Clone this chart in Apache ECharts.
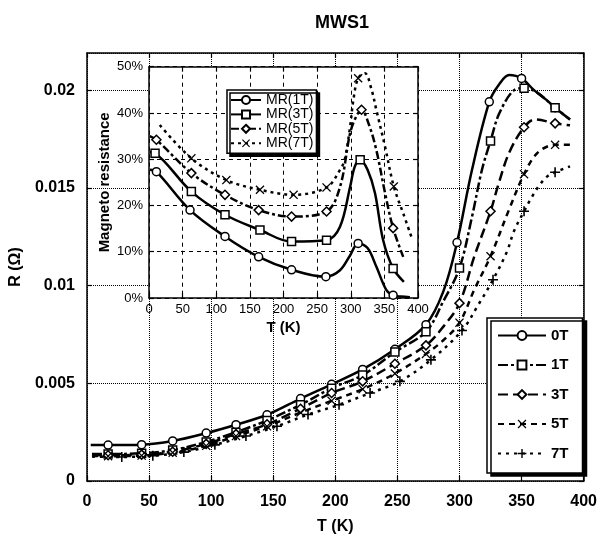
<!DOCTYPE html>
<html>
<head>
<meta charset="utf-8">
<script src="https://cdn.jsdelivr.net/npm/echarts@6/dist/echarts.min.js"></script>
<style>
  html, body { margin: 0; padding: 0; background: #fff; }
  #chart { width: 600px; height: 540px; }
</style>
</head>
<body>
<div id="chart"></div>
<script>
// R(T) curves, main plot
const t0T = [3, 17, 44, 69, 96, 120, 145, 172, 197, 222, 248, 273, 287, 298, 310, 324, 332, 340, 350, 360, 370, 377, 389]
const r0T = [0.00184, 0.00184, 0.00186, 0.00205, 0.00245, 0.00288, 0.00339, 0.00422, 0.00495, 0.00571, 0.00674, 0.00800, 0.0097, 0.0122, 0.0159, 0.0194, 0.0203, 0.02077, 0.0206, 0.0200, 0.0195, 0.0191, 0.0185]
const mk0T = [17, 44, 69, 96, 120, 145, 172, 197, 222, 248, 273, 298, 324, 350, 377]

const t1T = [4, 17, 44, 69, 96, 120, 145, 172, 197, 222, 248, 273, 287, 300, 310, 318, 325, 332, 344, 352, 362, 377, 389]
const r1T = [0.00138, 0.00138, 0.00142, 0.00158, 0.00200, 0.00250, 0.00310, 0.00390, 0.00475, 0.00542, 0.00660, 0.00764, 0.0092, 0.0109, 0.0135, 0.0159, 0.0174, 0.0188, 0.0200, 0.0201, 0.0199, 0.0191, 0.0185]
const mk1T = [17, 44, 69, 96, 120, 145, 172, 197, 222, 248, 273, 300, 325, 352, 377]

const t3T = [4, 17, 44, 69, 96, 120, 145, 172, 197, 222, 248, 273, 287, 300, 312, 325, 331, 340, 352, 361, 377, 389]
const r3T = [0.00132, 0.00132, 0.00135, 0.00150, 0.00190, 0.00240, 0.00290, 0.00370, 0.00450, 0.00510, 0.00600, 0.00694, 0.0079, 0.0091, 0.0115, 0.0138, 0.0151, 0.0168, 0.0181, 0.0185, 0.0183, 0.0182]
const mk3T = [17, 44, 69, 96, 120, 145, 172, 197, 222, 248, 273, 300, 325, 352, 377]

const t5T = [4, 17, 44, 69, 96, 120, 145, 172, 197, 222, 248, 273, 287, 300, 312, 325, 340, 352, 363, 377, 389]
const r5T = [0.00128, 0.00127, 0.00130, 0.00145, 0.00180, 0.00230, 0.00280, 0.00350, 0.00410, 0.00470, 0.00550, 0.00650, 0.0072, 0.0081, 0.0098, 0.0115, 0.0139, 0.0157, 0.0168, 0.0172, 0.0172]
const mk5T = [17, 44, 69, 96, 120, 145, 172, 197, 222, 248, 273, 300, 325, 352, 377]

const t7T = [4, 28, 53, 78, 103, 128, 153, 178, 203, 228, 252, 277, 302, 315, 327, 338, 344, 352, 358, 364, 371, 377, 389]
const r7T = [0.00125, 0.00123, 0.00129, 0.00148, 0.00185, 0.00230, 0.00280, 0.00340, 0.00390, 0.00450, 0.00510, 0.00620, 0.0077, 0.0090, 0.0103, 0.0117, 0.0128, 0.0138, 0.0145, 0.0151, 0.0156, 0.0158, 0.0161]
const mk7T = [28, 53, 78, 103, 128, 153, 178, 203, 228, 252, 277, 302, 327, 352, 377]

// magneto resistance, inset (%)
const tMR1 = [1, 11, 61, 113, 163, 212, 263, 284, 299, 311, 325, 338, 353, 363, 375, 388]
const vMR1 = [27.7, 27.3, 19.0, 13.3, 8.9, 6.1, 4.6, 6.0, 9.2, 11.8, 10.8, 6.8, 1.7, 0.6, 0.3, 0.15]
const mkMR1 = [11, 61, 113, 163, 212, 263, 311, 363]

const tMR3 = [1, 9, 63, 113, 165, 212, 264, 284, 299, 306, 314, 325, 336, 348, 363, 379]
const vMR3 = [31.5, 31.3, 23.0, 18.0, 14.7, 12.2, 12.5, 15.4, 24.0, 28.4, 29.9, 27.7, 22.7, 12.6, 6.4, 3.5]
const mkMR3 = [9, 63, 113, 165, 212, 264, 314, 363]

const tMR5 = [1, 11, 63, 113, 163, 212, 264, 284, 299, 308, 316, 327, 338, 351, 363, 378]
const vMR5 = [35.0, 34.2, 27.0, 22.3, 19.0, 17.6, 18.7, 24.0, 35.6, 39.2, 40.7, 37.5, 32.0, 22.7, 15.1, 8.9]
const mkMR5 = [11, 63, 113, 163, 212, 264, 316, 363]

const tMR7 = [16, 63, 115, 165, 215, 264, 284, 291, 299, 304, 311, 321, 331, 338, 351, 364, 378, 390]
const vMR7 = [37.4, 30.2, 25.5, 23.4, 22.3, 23.9, 27.7, 29.9, 37.0, 42.9, 47.5, 48.6, 45.0, 40.7, 32.7, 24.1, 18.3, 13.3]
const mkMR7 = [63, 115, 165, 215, 264, 311, 364]

const xTicks = [0, 400, 50]
const rTicks = [0, 0.0219, 0.005]
const mrTicks = [0, 50, 10]

const font = 'Liberation Sans, Arial, sans-serif'
const plusPath = 'path://M4.2,0H5.8V4.2H10V5.8H5.8V10H4.2V5.8H0V4.2H4.2Z'
const crossPath = 'path://M1,0L5,4L9,0L10,1L6,5L10,9L9,10L5,6L1,10L0,9L4,5L0,1Z'

const hollow = { color: '#fff', borderColor: '#000', borderWidth: 1.5 }
const filled = { color: '#000', borderWidth: 0 }

const buildData = (ts, vs, marks) => ts.map((t, i) => {
  const item = { value: [t, vs[i]] }
  if (!marks.includes(t)) item.symbol = 'none'
  return item
})

const makeLine = (name, ts, vs, marks, dash, symbol, size, style, axis, z) => ({
  name,
  type: 'line',
  xAxisIndex: axis,
  yAxisIndex: axis,
  data: buildData(ts, vs, marks),
  smooth: 0.35,
  symbol,
  symbolSize: size,
  showSymbol: true,
  showAllSymbol: true,
  lineStyle: { color: '#000', width: 2.5, type: dash },
  itemStyle: style,
  z
})

const series = [
  makeLine('0T', t0T, r0T, mk0T, 'solid', 'circle', 8, hollow, 0, 2),
  makeLine('1T', t1T, r1T, mk1T, [10, 3, 3, 3], 'rect', 8, hollow, 0, 2),
  makeLine('3T', t3T, r3T, mk3T, [10, 5], 'diamond', 9, hollow, 0, 2),
  makeLine('5T', t5T, r5T, mk5T, [6, 5], crossPath, 9, filled, 0, 2),
  makeLine('7T', t7T, r7T, mk7T, [3, 5], plusPath, 10, filled, 0, 2),
  makeLine('MR(1T)', tMR1, vMR1, mkMR1, 'solid', 'circle', 8, hollow, 2, 7),
  makeLine('MR(3T)', tMR3, vMR3, mkMR3, 'solid', 'rect', 8, hollow, 2, 7),
  makeLine('MR(5T)', tMR5, vMR5, mkMR5, [8, 3, 3, 3], 'diamond', 9, hollow, 2, 7),
  makeLine('MR(7T)', tMR7, vMR7, mkMR7, [3, 4], crossPath, 9, filled, 2, 7)
]

const axisLine = { show: true, onZero: false, lineStyle: { color: '#000', width: 1.5 } }
const axisTick = { show: true, inside: true, length: 5, lineStyle: { color: '#000', width: 1.2 } }

const valueAxis = (ticks, extra) => Object.assign({
  type: 'value',
  min: ticks[0],
  max: ticks[1],
  interval: ticks[2],
  axisLine,
  axisTick
}, extra)

const mainGrid = { type: 'dotted', color: '#000', width: 1, dashOffset: 0 }
const insetGrid = { type: [4, 4], color: '#000', width: 1 }

const option = {
  animation: false,
  backgroundColor: '#fff',
  title: {
    text: 'MWS1',
    left: 337,
    top: 9,
    textAlign: 'center',
    textStyle: { fontFamily: font, fontWeight: 'bold', fontSize: 18, color: '#000' }
  },
  grid: [
    { left: 87, right: 14, top: 53, bottom: 56.5 },
    { left: 149, right: 182, top: 66.7, bottom: 242, show: true, backgroundColor: '#fff', borderWidth: 0, z: 5 }
  ],
  xAxis: [
    valueAxis(xTicks, {
      gridIndex: 0, position: 'bottom', z: 0,
      splitLine: { show: true, lineStyle: mainGrid },
      axisLabel: { margin: 13, fontFamily: font, fontWeight: 'bold', fontSize: 16, color: '#000' },
      name: 'T (K)', nameLocation: 'middle', nameGap: 38,
      nameTextStyle: { fontFamily: font, fontWeight: 'bold', fontSize: 16, color: '#000' }
    }),
    valueAxis(xTicks, { gridIndex: 0, position: 'top', z: 0, splitLine: { show: false }, axisLabel: { show: false } }),
    valueAxis(xTicks, {
      gridIndex: 1, position: 'bottom', z: 6,
      splitLine: { show: true, lineStyle: insetGrid },
      axisLabel: { margin: 5, fontFamily: font, fontSize: 13, color: '#000' },
      name: 'T (K)', nameLocation: 'middle', nameGap: 22,
      nameTextStyle: { fontFamily: font, fontWeight: 'bold', fontSize: 15, color: '#000' }
    }),
    valueAxis(xTicks, { gridIndex: 1, position: 'top', z: 6, splitLine: { show: false }, axisLabel: { show: false } })
  ],
  yAxis: [
    valueAxis(rTicks, {
      gridIndex: 0, position: 'left', z: 0,
      splitLine: { show: true, lineStyle: mainGrid },
      axisLabel: {
        margin: 12, showMaxLabel: false, fontFamily: font, fontWeight: 'bold', fontSize: 16, color: '#000',
        formatter: (v) => String(+v.toFixed(4))
      },
      name: 'R (Ω)', nameLocation: 'middle', nameGap: 57,
      nameTextStyle: { fontFamily: font, fontWeight: 'bold', fontSize: 16, color: '#000' }
    }),
    valueAxis(rTicks, { gridIndex: 0, position: 'right', z: 0, splitLine: { show: false }, axisLabel: { show: false } }),
    valueAxis(mrTicks, {
      gridIndex: 1, position: 'left', z: 6,
      splitLine: { show: true, lineStyle: insetGrid },
      axisLabel: { margin: 6, fontFamily: font, fontSize: 13, color: '#000', formatter: '{value}%' },
      name: 'Magneto resistance', nameLocation: 'middle', nameGap: 37,
      nameTextStyle: { fontFamily: font, fontWeight: 'bold', fontSize: 15, color: '#000' }
    }),
    valueAxis(mrTicks, { gridIndex: 1, position: 'right', z: 6, splitLine: { show: false }, axisLabel: { show: false } })
  ],
  legend: [
    {
      data: ['0T', '1T', '3T', '5T', '7T'],
      orient: 'vertical',
      left: 487,
      top: 318,
      padding: [10, 14, 12, 10],
      itemWidth: 48,
      itemHeight: 11,
      itemGap: 14.5,
      backgroundColor: '#fff',
      borderColor: '#000',
      borderWidth: 1.5,
      shadowColor: '#000',
      shadowBlur: 0,
      shadowOffsetX: 4,
      shadowOffsetY: 3,
      z: 8,
      textStyle: { fontFamily: font, fontWeight: 'bold', fontSize: 15, lineHeight: 15, color: '#000' }
    },
    {
      data: ['MR(1T)', 'MR(3T)', 'MR(5T)', 'MR(7T)'],
      orient: 'vertical',
      left: 227,
      top: 90,
      padding: [3, 3, 3, 3],
      itemWidth: 30,
      itemHeight: 10,
      itemGap: 0.4,
      backgroundColor: '#fff',
      borderColor: '#000',
      borderWidth: 1.5,
      shadowColor: '#000',
      shadowBlur: 0,
      shadowOffsetX: 3,
      shadowOffsetY: 3,
      z: 8,
      textStyle: { fontFamily: font, fontSize: 14, lineHeight: 14, color: '#000' }
    }
  ],
  series
}

const myChart = echarts.init(document.getElementById('chart'))
myChart.setOption(option)
</script>
</body>
</html>
